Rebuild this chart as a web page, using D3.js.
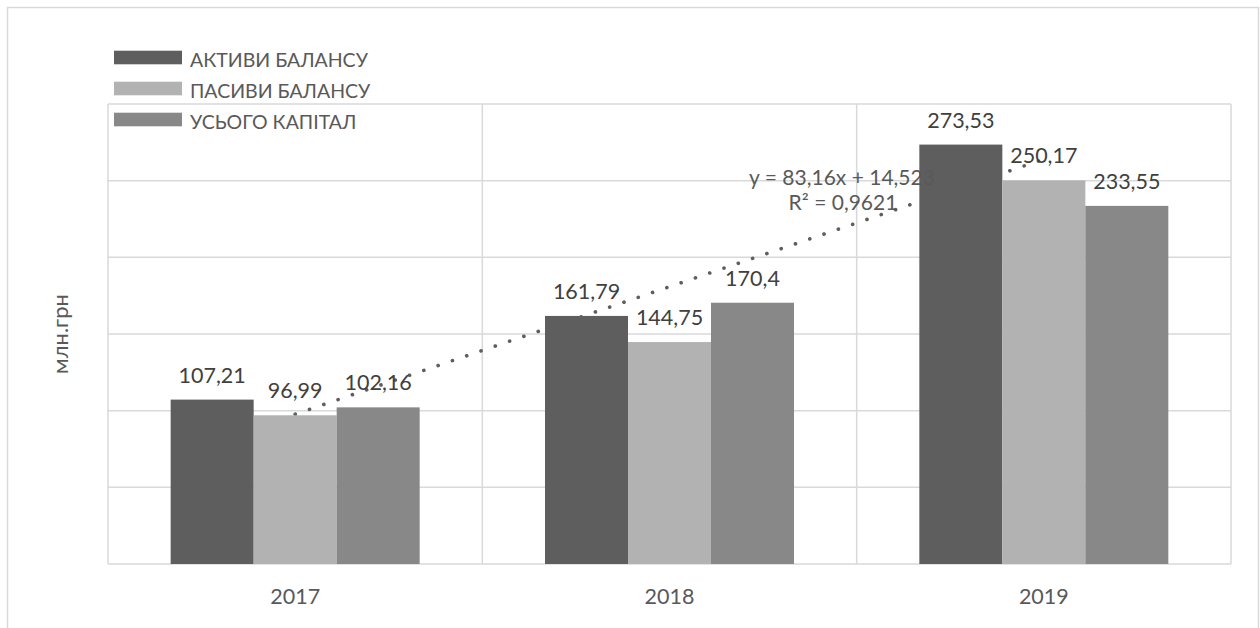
<!DOCTYPE html>
<html><head><meta charset="utf-8">
<script src="https://cdn.jsdelivr.net/npm/d3@7"></script>
<style>body{margin:0;background:#fff}svg{display:block;font-family:Lato,sans-serif}</style>
</head><body><svg id="c" width="1260" height="628"></svg>
<script>
const categories = ["2017", "2018", "2019"];
const seriesNames = ["АКТИВИ БАЛАНСУ", "ПАСИВИ БАЛАНСУ", "УСЬОГО КАПІТАЛ"];
const aktyvy = [107.21, 161.79, 273.53];
const pasyvy = [96.99, 144.75, 250.17];
const kapital = [102.16, 170.4, 233.55];
const labels = [["107,21","161,79","273,53"],["96,99","144,75","250,17"],["102,16","170,4","233,55"]];
const yTicks = [0, 50, 100, 150, 200, 250, 300];
const trend = {slope: 83.16, intercept: 14.523, text1: "y = 83,16x + 14,523", text2: "R² = 0,9621"};
const colors = ["#5e5e5e", "#b2b2b2", "#888888"];
const values = [aktyvy, pasyvy, kapital];

const svg = d3.select("#c");
const L = 108, R = 1231, T = 104, B = 564;
const textCol = "#595959";

svg.append("rect").attr("x", 7.5).attr("y", 7.5).attr("width", 1251).attr("height", 640)
  .attr("fill", "none").attr("stroke", "#d9d9d9").attr("stroke-width", 1.5);

const x0 = d3.scaleBand().domain(categories).range([L, R]).paddingInner(0).paddingOuter(0);
const x1 = d3.scaleBand().domain(d3.range(3)).range([0, x0.bandwidth()]).paddingInner(0).paddingOuter(0.755);
const y = d3.scaleLinear().domain([0, 300]).range([B, T]);

// gridlines
svg.append("g").selectAll("line").data(yTicks).join("line")
  .attr("x1", L).attr("x2", R).attr("y1", d => y(d)).attr("y2", d => y(d))
  .attr("stroke", "#d9d9d9").attr("stroke-width", 1.5);
const vlines = [L, ...categories.map(c => x0(c) + x0.bandwidth())];
svg.append("g").selectAll("line").data(vlines).join("line")
  .attr("x1", d => d).attr("x2", d => d).attr("y1", T).attr("y2", B)
  .attr("stroke", "#d9d9d9").attr("stroke-width", 1.5);

// trendline (behind bars), on series 2
const tx = i => x0(categories[i]) + x1(1) + x1.bandwidth() / 2;
const tv = i => trend.slope * (i + 1) + trend.intercept;
svg.append("line")
  .attr("x1", tx(0)).attr("y1", y(tv(0))).attr("x2", tx(2)).attr("y2", y(tv(2)))
  .attr("stroke", "#5e5e5e").attr("stroke-width", 3.6).attr("stroke-linecap", "round")
  .attr("stroke-dasharray", "0.1 15");

// bars
values.forEach((vals, s) => {
  svg.append("g").selectAll("rect").data(vals).join("rect")
    .attr("x", (d, i) => x0(categories[i]) + x1(s))
    .attr("width", x1.bandwidth())
    .attr("y", d => y(d)).attr("height", d => B - y(d))
    .attr("fill", colors[s]);
});

// data labels
values.forEach((vals, s) => {
  svg.append("g").selectAll("text").data(vals).join("text")
    .attr("x", (d, i) => x0(categories[i]) + x1(s) + x1.bandwidth() / 2)
    .attr("y", d => y(d) - 17)
    .attr("text-anchor", "middle").attr("font-size", 21.5).attr("fill", "#404040")
    .text((d, i) => labels[s][i]);
});

// trend equation
svg.append("text").attr("x", 842).attr("y", 185).attr("text-anchor", "middle")
  .attr("font-size", 21).attr("fill", textCol).text(trend.text1);
svg.append("text").attr("x", 843).attr("y", 210).attr("text-anchor", "middle")
  .attr("font-size", 21).attr("fill", textCol).text(trend.text2);

// x axis labels
svg.append("g").selectAll("text").data(categories).join("text")
  .attr("x", d => x0(d) + x0.bandwidth() / 2).attr("y", 604)
  .attr("text-anchor", "middle").attr("font-size", 21.5).attr("fill", textCol).text(d => d);

// y title
svg.append("text").attr("transform", "translate(68,334) rotate(-90)")
  .attr("text-anchor", "middle").attr("font-size", 22).attr("fill", textCol).text("млн.грн");

// legend
const lg = svg.append("g");
seriesNames.forEach((n, i) => {
  const cy = 57.5 + i * 31;
  lg.append("rect").attr("x", 114).attr("y", cy - 6.8).attr("width", 68).attr("height", 13.6).attr("fill", colors[i]);
  lg.append("text").attr("x", 190).attr("y", cy + 9.5).attr("font-size", 19.5).attr("fill", textCol).text(n);
});
</script></body></html>
